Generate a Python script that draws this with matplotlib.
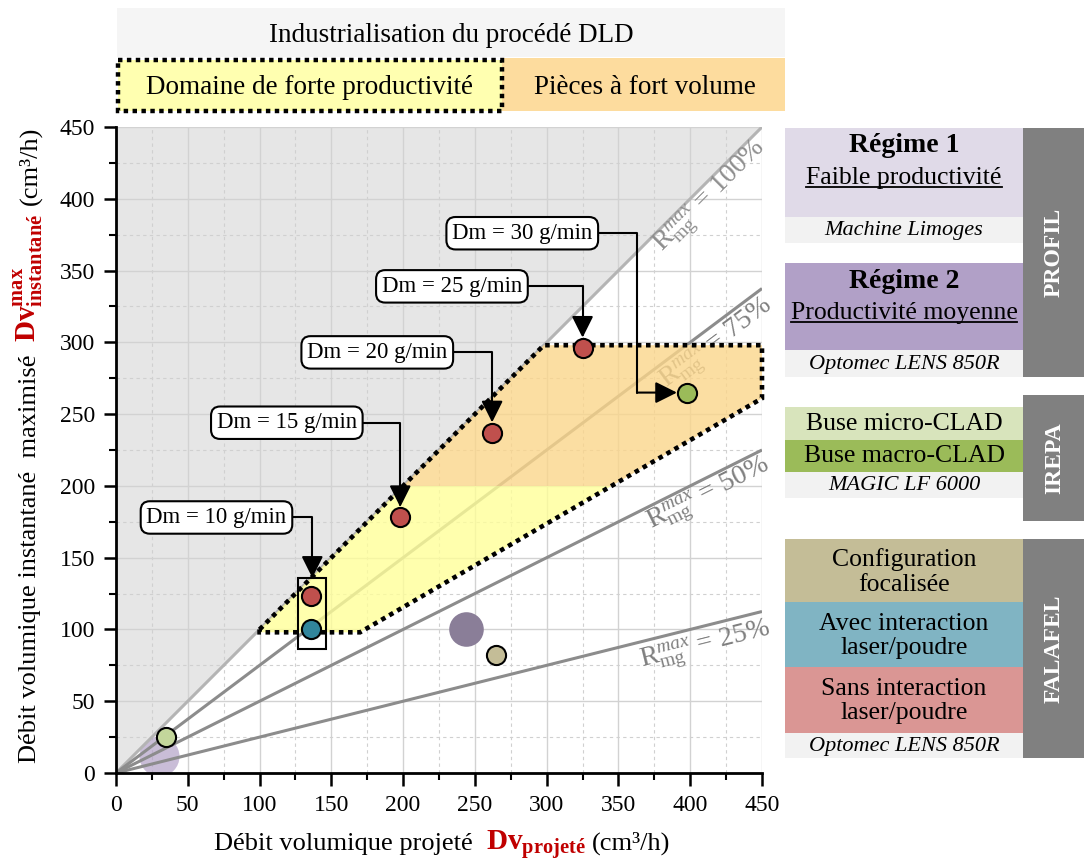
import numpy as np
import matplotlib
matplotlib.use('Agg')
import matplotlib.pyplot as plt
from matplotlib.patches import Rectangle, Polygon
from matplotlib.ticker import MultipleLocator
from matplotlib.transforms import IdentityTransform

plt.rcParams['font.family'] = ['Liberation Serif', 'DejaVu Serif']
plt.rcParams['mathtext.fontset'] = 'custom'
plt.rcParams['mathtext.rm'] = 'Liberation Serif'
plt.rcParams['mathtext.it'] = 'Liberation Serif:italic'
plt.rcParams['mathtext.bf'] = 'Liberation Serif:bold'

# ---------------- data ----------------
ticks = [0, 50, 100, 150, 200, 250, 300, 350, 400, 450]
ratio_values = [1.00, 0.75, 0.50, 0.25]
ratio_labels = ['100%', '75%', '50%', '25%']
ratio_label_x = [415, 419, 413, 411]
ratio_label_y = [401, 298, 193, 88]

sans_x = [136, 198, 262, 325]          # Sans interaction laser/poudre
sans_y = [123, 178, 237, 296]
avec_x = [136]                          # Avec interaction laser/poudre
avec_y = [100]
focal_x = [265]                         # Configuration focalisée
focal_y = [82]
micro_x = [35]                          # Buse micro-CLAD
micro_y = [25]
macro_x = [398]                         # Buse macro-CLAD
macro_y = [265]
regime1_x = [30]
regime1_y = [12]
regime2_x = [244]
regime2_y = [100]

domain_x = [100, 298, 450, 450, 170, 100]
domain_y = [100, 298, 298, 261, 98, 98]
split_y = 200

dm_labels = ['Dm = 10 g/min', 'Dm = 15 g/min', 'Dm = 20 g/min',
             'Dm = 25 g/min', 'Dm = 30 g/min']
dm_box_x = [70, 119, 182, 234, 283]
dm_box_y = [178, 244, 293, 339, 376]

group_rect = (127, 86.5, 146.5, 136)    # x0, y0, x1, y1 around 10 g/min points

# ---------------- figure ----------------
W, H = 1084, 863
fig = plt.figure(figsize=(W / 100, H / 100), dpi=100)
ov = fig.add_axes([0, 0, 1, 1])
ov.set_xlim(0, W)
ov.set_ylim(H, 0)
ov.axis('off')

L, R, T, B = 116, 762, 127, 773
ax = fig.add_axes([L / W, 1 - B / H, (R - L) / W, (B - T) / H])
ax.set_xlim(0, 450)
ax.set_ylim(0, 450)
ax.set_xticks(ticks)
ax.set_yticks(ticks)
ax.set_xticklabels([str(t) for t in ticks])
ax.set_yticklabels([str(t) for t in ticks])
ax.xaxis.set_minor_locator(MultipleLocator(25))
ax.yaxis.set_minor_locator(MultipleLocator(25))
ax.set_axisbelow(True)
ax.grid(which='major', color='#d2d2d2', lw=1.0)
ax.grid(which='minor', color='#d0d0d0', lw=0.8, ls=(0, (3, 3)))
for s in ['top', 'right']:
    ax.spines[s].set_visible(False)
for s in ['left', 'bottom']:
    ax.spines[s].set_linewidth(2)
ax.tick_params(which='major', length=9, width=1.8, direction='out', labelsize=17)
ax.tick_params(which='minor', length=5, width=1.5, direction='out')
ax.tick_params(axis='x', pad=7)
ax.tick_params(axis='y', pad=6)

# gray region above 100% line
ax.fill([0, 450, 0], [0, 450, 450], color='#e6e6e6', lw=0, zorder=0.2)

# ratio lines
xs = np.array([0, 450])
for r in ratio_values:
    col = '#b4b4b4' if r == 1.0 else '#8c8c8c'
    ax.plot(xs, xs * r, color=col, lw=2.2, zorder=0.8, solid_capstyle='butt')

fig.canvas.draw()


def pix_angle(slope):
    p0 = ax.transData.transform((0, 0))
    p1 = ax.transData.transform((100, 100 * slope))
    return np.degrees(np.arctan2(p1[1] - p0[1], p1[0] - p0[0]))


for r, lab, lx, ly in zip(ratio_values, ratio_labels, ratio_label_x, ratio_label_y):
    col = '#8e8e8e' if r == 1.0 else '#7f7f7f'
    ax.text(lx, ly, r'$\mathrm{R}_{\mathrm{mg}}^{max}$ = ' + lab,
            rotation=pix_angle(r), rotation_mode='anchor', ha='center', va='center',
            fontsize=20, color=col, zorder=0.9)

# domain polygon
poly = list(zip(domain_x, domain_y))
pY = Polygon(poly, closed=True, fc='#ffff99', alpha=0.8, lw=0, zorder=1)
ax.add_patch(pY)
pY.set_clip_path(Rectangle((0, 0), 450, split_y, transform=ax.transData))
pO = Polygon(poly, closed=True, fc='#fbd68b', alpha=0.8, lw=0, zorder=1)
ax.add_patch(pO)
pO.set_clip_path(Rectangle((0, split_y), 450, 450 - split_y, transform=ax.transData))
ax.add_patch(Polygon(poly, closed=True, fill=False, ec='black', lw=3.3,
                     ls=(0, (1, 1)), zorder=3, clip_on=False))

# group rectangle
gx0, gy0, gx1, gy1 = group_rect
ax.add_patch(Rectangle((gx0, gy0), gx1 - gx0, gy1 - gy0, fill=False, ec='black',
                       lw=1.5, zorder=4))

# points
ax.scatter(regime1_x, regime1_y, s=830, color='#b3a2c7', alpha=0.7, lw=0, zorder=0.7)
ax.scatter(regime2_x, regime2_y, s=620, color='#8a7e98', lw=0, zorder=4)
ms = 190
ax.scatter(micro_x, micro_y, s=ms, color='#c3d69b', ec='black', lw=1.5, zorder=5)
ax.scatter(macro_x, macro_y, s=ms, color='#9bbb59', ec='black', lw=1.5, zorder=5)
ax.scatter(focal_x, focal_y, s=ms, color='#c4bd97', ec='black', lw=1.5, zorder=5)
ax.scatter(avec_x, avec_y, s=ms, color='#31859c', ec='black', lw=1.5, zorder=5)
ax.scatter(sans_x, sans_y, s=ms, color='#c0504d', ec='black', lw=1.5, zorder=5)

# annotations
bbox = dict(boxstyle='round,pad=0.25,rounding_size=0.4', fc='white', ec='black', lw=1.5)
head = '-|>,head_length=1.1,head_width=0.55'
ms_arrow = 12
targets = [((gx0 + gx1) / 2, gy1, 0)] + [(x, y, 7.5) for x, y in zip(sans_x[1:], sans_y[1:])]
for lab, bx, by, (tx, ty, sh) in zip(dm_labels[:4], dm_box_x[:4], dm_box_y[:4], targets):
    ax.annotate(lab, xy=(tx, ty), xytext=(bx, by), ha='center', va='center',
                fontsize=16.5, bbox=bbox, zorder=6,
                arrowprops=dict(arrowstyle=head, color='black', lw=1.5,
                                mutation_scale=ms_arrow,
                                shrinkA=0, shrinkB=sh, relpos=(1, 0.5),
                                connectionstyle='angle,angleA=0,angleB=90,rad=0'))
elbow_x = 363
ax.annotate(dm_labels[4], xy=(elbow_x, macro_y[0]), xytext=(dm_box_x[4], dm_box_y[4]),
            ha='center', va='center', fontsize=16.5, bbox=bbox, zorder=6,
            arrowprops=dict(arrowstyle='-', color='black', lw=1.5, shrinkA=0, shrinkB=0,
                            relpos=(1, 0.5),
                            connectionstyle='angle,angleA=0,angleB=90,rad=0'))
ax.annotate('', xy=(macro_x[0], macro_y[0]), xytext=(elbow_x, macro_y[0]), zorder=6,
            arrowprops=dict(arrowstyle=head, color='black', lw=1.5, mutation_scale=ms_arrow,
                            shrinkA=0, shrinkB=7.5))

# ---------------- header ----------------
ov.add_patch(Rectangle((117, 8), 668, 49, fc='#f5f5f5', lw=0))
ov.text(451, 35, 'Industrialisation du procédé DLD', ha='center', va='center', fontsize=19.5)
ov.add_patch(Rectangle((502, 58), 283, 53, fc='#fddc9e', lw=0))
ov.add_patch(Rectangle((118, 60), 384, 51, fc='#ffffb0', ec='black', lw=3.2, ls=(0, (1, 1))))
ov.text(310, 87, 'Domaine de forte productivité', ha='center', va='center', fontsize=19.5)
ov.text(645, 87, 'Pièces à fort volume', ha='center', va='center', fontsize=19.5)

# ---------------- right panel ----------------
px0, px1 = 785, 1023
cx = (px0 + px1) / 2
boxes = [
    (128, 217, '#e0dae8'), (217, 243, '#f2f2f2'),
    (263, 350, '#b1a0c7'), (350, 377, '#f2f2f2'),
    (407, 440, '#d8e4bc'), (440, 472, '#9bbb59'), (472, 498, '#f2f2f2'),
    (539, 602, '#c4bd97'), (602, 667, '#80b4c3'), (667, 733, '#da9694'),
    (733, 758, '#f2f2f2'),
]
for y0, y1, c in boxes:
    ov.add_patch(Rectangle((px0, y0), px1 - px0, y1 - y0, fc=c, lw=0))
bars = [(128, 377, 'PROFIL'), (395, 521, 'IREPA'), (539, 758, 'FALAFEL')]
for y0, y1, lab in bars:
    ov.add_patch(Rectangle((px1, y0), W - px1, y1 - y0, fc='#808080', lw=0))
    ov.text((px1 + W) / 2 + 1, (y0 + y1) / 2, lab, rotation=90, ha='center', va='center',
            color='white', fontsize=17, fontweight='bold')

ov.text(cx, 146, 'Régime 1', ha='center', va='center', fontsize=20, fontweight='bold')
ov.text(cx, 281, 'Régime 2', ha='center', va='center', fontsize=20, fontweight='bold')
under1 = ov.text(cx, 184, 'Faible productivité', ha='center', va='baseline', fontsize=18.5)
under2 = ov.text(cx, 319, 'Productivité moyenne', ha='center', va='baseline', fontsize=18.5)
for y, s in [(230, 'Machine Limoges'), (364, 'Optomec LENS 850R'),
             (485, 'MAGIC LF 6000'), (746, 'Optomec LENS 850R')]:
    ov.text(cx, y, s, ha='center', va='center', fontsize=16, style='italic')
for y, s in [(424, 'Buse micro-CLAD'), (456, 'Buse macro-CLAD'),
             (572, 'Configuration\nfocalisée'), (636, 'Avec interaction\nlaser/poudre'),
             (701, 'Sans interaction\nlaser/poudre')]:
    ov.text(cx, y, s, ha='center', va='center', fontsize=18.5, linespacing=1.15)

fig.canvas.draw()
rend = fig.canvas.get_renderer()
inv = ov.transData.inverted()
for t, yb in [(under1, 187), (under2, 322)]:
    bb = t.get_window_extent(rend)
    (xa, _), (xb, _) = inv.transform([(bb.x0, bb.y0), (bb.x1, bb.y0)])
    ov.plot([xa, xb], [yb, yb], color='black', lw=1.3)


# ---------------- axis labels (multi-colour) ----------------
def seq_text(pieces, center, rotation=0):
    widths = []
    for s, kw, gap in pieces:
        t = fig.text(0, 0, s, **kw)
        widths.append(t.get_window_extent(rend).width + gap)
        t.remove()
    total = sum(widths)
    cxp, cyp = center
    pos = -total / 2
    for (s, kw, gap), w in zip(pieces, widths):
        if rotation == 0:
            x, y = cxp + pos, cyp
        else:
            x, y = cxp, cyp + pos
        fig.text(x, y, s, transform=IdentityTransform(), rotation=rotation,
                 rotation_mode='anchor', ha='left', va='baseline', **kw)
        pos += w


red = '#c00000'
seq_text([
    ('Débit volumique projeté', dict(fontsize=19, color='black'), 14),
    (r'$\mathbf{Dv}_{\mathbf{projeté}}$', dict(fontsize=21, color=red), 6),
    ('(cm³/h)', dict(fontsize=19, color='black'), 0),
], center=(442, H - 850))

seq_text([
    ('Débit volumique instantané  maximisé', dict(fontsize=19, color='black'), 12),
    (r'$\mathbf{Dv}_{\mathbf{instantané}}^{\mathbf{max}}$', dict(fontsize=21, color=red), 9),
    ('(cm³/h)', dict(fontsize=19, color='black'), 0),
], center=(36, H - 445), rotation=90)

fig.savefig('out.png', dpi=100)
